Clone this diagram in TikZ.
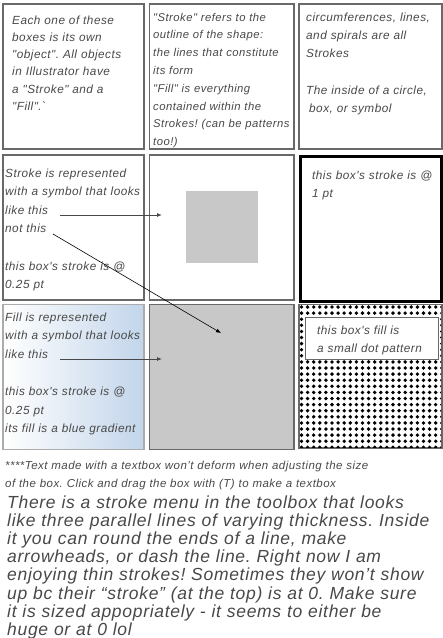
\documentclass[tikz,border=0pt]{standalone}
\usepackage{fontspec}
\setmainfont{Liberation Sans}
\newfontfamily\notefont[LetterSpace=4]{Liberation Sans}
\usetikzlibrary{arrows.meta}
\frenchspacing

\definecolor{fillgray}{RGB}{200,200,200}
\definecolor{edgegray}{RGB}{105,105,105}
\definecolor{inkgray}{RGB}{72,72,72}
\definecolor{gradblue}{RGB}{194,213,234}

\begin{document}
\begin{tikzpicture}[
    x=1pt, y=-1pt,
    every node/.style={text=inkgray},
    cell/.style={rectangle, draw=edgegray, line width=1.3pt, anchor=north west,
                 inner sep=0pt, outer sep=0pt, minimum width=141pt, minimum height=145pt},
    note/.style={anchor=base west, inner sep=0pt, text width=150pt, align=left,
                 font=\notefont\fontsize{11.8}{18}\selectfont\itshape},
    ptr/.style={-{Latex[length=5pt,width=4pt]}, line width=0.9pt, draw=inkgray}
]

\useasboundingbox (0,0) rectangle (443,638);

% ================= ligne 1 : objets, stroke, fill =================

\node[cell] (b11) at (3,4)     {};
\node[cell, minimum width=144.5pt] (b12) at (149.5,4) {};
\node[cell, minimum width=143pt]   (b13) at (299,4)   {};

\node[note, font=\notefont\fontsize{11.8}{17.3}\selectfont\itshape] (t11) at (12,24)
  {Each one of these\\boxes is its own\\"object". All objects\\in Illustrator have\\a "Stroke" and a\\"Fill".`};
\node[note, font=\notefont\fontsize{11.3}{17.8}\selectfont\itshape] (t12) at (153,21)
  {"Stroke" refers to the\\outline of the shape:\\the lines that constitute\\its form\\"Fill" is everything\\contained within the\\Strokes! (can be patterns\\too!)};
\node[note, font=\notefont\fontsize{11.8}{18.3}\selectfont\itshape] (t13) at (306,21)
  {circumferences, lines,\\and spirals are all\\Strokes\\[18.3pt]The inside of a circle,\\\hspace*{3pt}box, or symbol};

% ================= ligne 2 : epaisseur du stroke =================

\node[cell] (b21) at (3,155)     {};
\node[cell, minimum width=144.5pt] (b22) at (149.5,155) {};
\node[cell, minimum width=141pt, draw=black, line width=3pt] (b23) at (300,156) {};

\node[rectangle, fill=fillgray, minimum size=72pt, inner sep=0pt] (sq) at (222,227) {};

\node[note, font=\notefont\fontsize{11.8}{18.6}\selectfont\itshape] (t21) at (5,177)
  {Stroke is represented\\with a symbol that looks\\like this\\not this\\[18.6pt]this box's stroke is @\\0.25 pt};
\node[note] (t23) at (312,179) {this box's stroke is @\\1 pt};

\coordinate (likeS) at (60,215);
\coordinate (likeT) at (162,215);
\coordinate (notS)  at (53,234);
\coordinate (notT)  at (221,333);

% ================= ligne 3 : remplissages =================

\begin{scope}[y=1pt]
  \shade[left color=white, right color=gradblue] (3,-304.5) rectangle (144,-449.5);
\end{scope}
\node[cell, draw=edgegray!55] (b31) at (3,304.5) {};
\node[cell, minimum width=144.5pt, fill=fillgray] (b32) at (149.5,304.5) {};
\node[cell, minimum width=143pt, minimum height=143.5pt, fill=white] (b33) at (299,304.5) {};

\begin{scope}
  \clip (300,305.5) rectangle (441,447);
  \foreach \i in {0,...,23}
    \foreach \j in {0,...,23}
      \fill[black] (301.5+6.1*\i, 307+6.1*\j) circle (1.9pt);
\end{scope}

\node[rectangle, draw=edgegray, line width=1.3pt, fill=white, anchor=north west,
      minimum width=133pt, minimum height=42pt, inner sep=0pt] (dotbox) at (305,317) {};
\node[note] (t33) at (317,334) {this box's fill is\\a small dot pattern};

\node[note, font=\notefont\fontsize{11.8}{18.6}\selectfont\itshape] (t31) at (5,321)
  {Fill is represented\\with a symbol that looks\\like this\\[18.6pt]this box's stroke is @\\0.25 pt\\its fill is a blue gradient};

\coordinate (fillS) at (60,359);
\coordinate (fillT) at (162,359);

\draw[ptr] (likeS) -- (likeT);
\draw[ptr] (fillS) -- (fillT);
\draw[ptr, draw=black, line width=0.6pt] (notS) -- (notT);

% ================= texte du bas =================

\node[note, text width=440pt, font=\notefont\fontsize{11.5}{18}\selectfont\itshape] (foot) at (5,469)
  {****Text made with a textbox won’t deform when adjusting the size\\of the box. Click and drag the box with (T) to make a textbox};

\node[note, text width=440pt, font=\notefont\fontsize{17.5}{18.2}\selectfont\itshape] (menu) at (7,508)
  {There is a stroke menu in the toolbox that looks\\like three parallel lines of varying thickness. Inside\\it you can round the ends of a line, make\\arrowheads, or dash the line. Right now I am\\enjoying thin strokes! Sometimes they won’t show\\up bc their “stroke” (at the top) is at 0. Make sure\\it is sized appopriately - it seems to either be\\huge or at 0 lol};

\end{tikzpicture}
\end{document}
